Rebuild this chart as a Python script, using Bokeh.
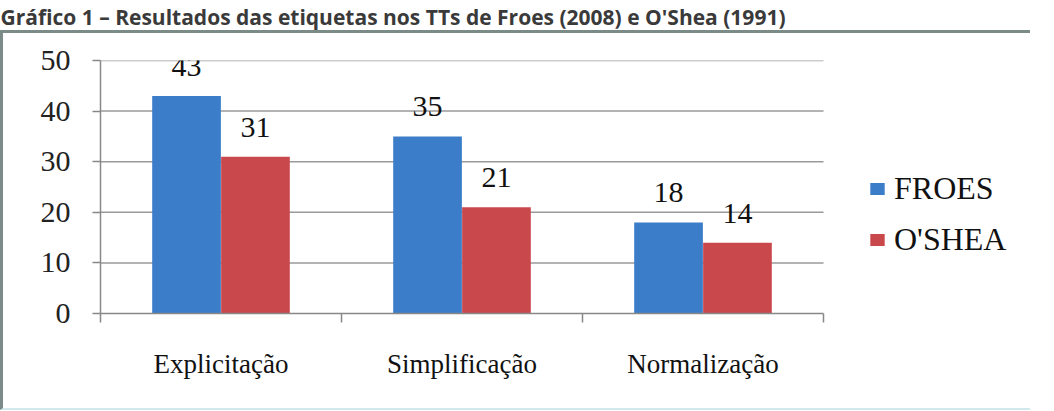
from bokeh.plotting import figure
from bokeh.layouts import column
from bokeh.models import (ColumnDataSource, LabelSet, Legend, LegendItem,
                          Range1d, FixedTicker, Title)
from bokeh.transform import dodge
from bokeh.embed import file_html
from bokeh.resources import INLINE

title_text = "Gráfico 1 – Resultados das etiquetas nos TTs de Froes (2008) e O'Shea (1991)"
categories = ["Explicitação", "Simplificação", "Normalização"]
series_names = ["FROES", "O'SHEA"]
froes = [43, 35, 18]
oshea = [31, 21, 14]
y_ticks = [0, 10, 20, 30, 40, 50]
colors = ["#3c7dc9", "#c9484c"]

serif = "Liberation Serif"

W, H = 1030, 380
BL, BR = 97, 20

# ---- title strip ----
t = figure(width=W, height=30, output_backend="svg", toolbar_location=None,
           x_axis_location=None, y_axis_location=None, min_border=0,
           x_range=Range1d(0, 1), y_range=Range1d(0, 1))
t.outline_line_color = None
t.xgrid.grid_line_color = None
t.ygrid.grid_line_color = None
t.title = Title(text=title_text, align="left", offset=-BL, standoff=0,
                text_font="Open Sans", text_font_style="bold", text_font_size="21px",
                text_color="#3a3a3a")

# ---- main chart ----
n = len(categories)
centers = [i + 0.5 for i in range(n)]
src = ColumnDataSource(dict(
    pos=centers, froes=froes, oshea=oshea,
    froes_txt=[str(v) for v in froes], oshea_txt=[str(v) for v in oshea],
))

frame_px = W - BL - BR
cat_px = 723  # pixel span of the category area inside the wider frame
x_end = n * frame_px / cat_px

p = figure(x_range=Range1d(0, x_end), y_range=Range1d(0, 50), width=W, height=H,
           output_backend="svg", toolbar_location=None,
           min_border_left=BL, min_border_top=27, min_border_right=BR, min_border_bottom=100)
p.styles = {"border-top": "3px solid #7b8c88", "border-left": "3px solid #7b8c88",
            "border-bottom": "2px solid #d3e8ec"}
p.outline_line_color = None
p.background_fill_color = "white"
p.border_fill_color = "white"
p.xgrid.grid_line_color = None
p.ygrid.grid_line_color = None

# horizontal gridlines limited to the category area
p.segment(x0=[0] * (len(y_ticks) - 1), x1=[n] * (len(y_ticks) - 1),
          y0=y_ticks[1:], y1=y_ticks[1:], line_color="#9a9a9a", line_width=1.5)

yax = p.yaxis[0]
yax.ticker = FixedTicker(ticks=y_ticks)
yax.axis_line_color = "#888888"
yax.axis_line_width = 1.5
yax.major_tick_line_color = "#888888"
yax.major_tick_line_width = 1.5
yax.major_tick_out = 8
yax.major_tick_in = 0
yax.minor_tick_line_color = None
yax.major_label_standoff = 22
yax.major_label_text_font = serif
yax.major_label_text_font_size = "30px"
yax.major_label_text_color = "#222222"

# category axis: labels at centres, boundary ticks as minor ticks
xax = p.xaxis[0]
xax.bounds = (0, n)
xax.ticker = FixedTicker(ticks=centers, minor_ticks=list(range(n + 1)))
xax.major_label_overrides = {c: name for c, name in zip(centers, categories)}
xax.axis_line_color = "#888888"
xax.axis_line_width = 1.5
xax.major_tick_out = 0
xax.major_tick_in = 0
xax.minor_tick_out = 9
xax.minor_tick_in = 0
xax.minor_tick_line_color = "#888888"
xax.minor_tick_line_width = 1.5
xax.major_label_standoff = 26
xax.major_label_text_font = serif
xax.major_label_text_font_size = "27px"
xax.major_label_text_color = "#111111"

w = 0.285
off = 0.143
r1 = p.vbar(x=dodge("pos", -off), top="froes", width=w, source=src,
            fill_color=colors[0], line_color=None)
r2 = p.vbar(x=dodge("pos", off), top="oshea", width=w, source=src,
            fill_color=colors[1], line_color=None)

for col, txt, o in [("froes", "froes_txt", -off), ("oshea", "oshea_txt", off)]:
    p.add_layout(LabelSet(x=dodge("pos", o), y=col, text=txt, source=src,
                          y_offset=20, text_align="center", text_baseline="alphabetic",
                          text_font=serif, text_font_size="30px", text_color="#111111"))

legend = Legend(items=[LegendItem(label=series_names[0], renderers=[r1]),
                       LegendItem(label=series_names[1], renderers=[r2])],
                location=(768, 55), orientation="vertical",
                glyph_width=18, glyph_height=15, label_standoff=8,
                label_text_font=serif, label_text_font_size="32px", label_text_color="#111111",
                label_height=30, spacing=14, padding=0, margin=0,
                border_line_color=None, background_fill_alpha=0)
p.add_layout(legend, "center")

layout = column(t, p, spacing=0)
open("out.html", "w").write(file_html(layout, INLINE))
